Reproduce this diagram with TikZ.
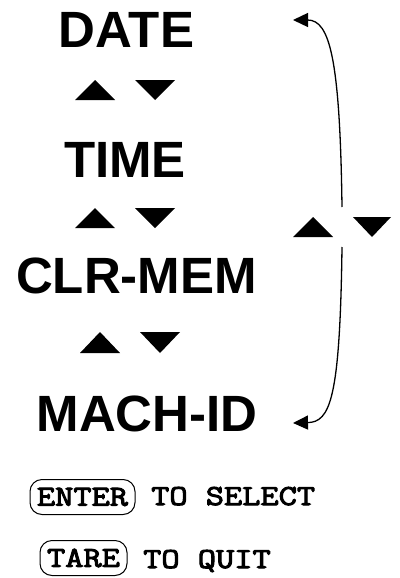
\documentclass[tikz,border=0pt]{standalone}
\usepackage{fontspec}
\setmainfont{Liberation Sans}
\newfontfamily\keyfont{Latin Modern Mono}[FakeBold=3.5,FakeStretch=1.22]
\usetikzlibrary{arrows.meta}
\newcommand\keyface{\fontsize{29}{29}\keyfont}
\begin{document}
\begin{tikzpicture}[x=1pt,y=-1pt,
  menuitem/.style={anchor=base,inner sep=0pt,font=\fontsize{51}{51}\selectfont\bfseries},
  keybox/.style={draw,line width=1pt,rounded corners=12pt,inner sep=0pt,font=\keyface},
  keytext/.style={anchor=base west,inner sep=0pt,font=\keyface},
  tri/.style={fill=black},
  loop/.style={line width=1.3pt,-{Triangle[length=15pt,width=14pt]}}]
\useasboundingbox[fill=white] (0,0) rectangle (399,578);

% menu entries
\node[menuitem] (date) at (126.5,48) {DATE};
\node[menuitem] (time) at (125,177) {TIME};
\node[menuitem] (clr)  at (136.5,293) {CLR-MEM};
\node[menuitem] (mach) at (147,431) {MACH-ID};

% up/down keys between the entries
\fill[tri] (75,100) -- (115,100) -- (95,80) -- cycle;
\fill[tri] (135,80) -- (175,80) -- (155,100) -- cycle;
\fill[tri] (75,228) -- (115,228) -- (95,208) -- cycle;
\fill[tri] (135,208) -- (175,208) -- (155,228) -- cycle;
\fill[tri] (80,353) -- (120,353) -- (100,332) -- cycle;
\fill[tri] (140,332) -- (180,332) -- (160,353) -- cycle;

% wrap-around keys on the right
\fill[tri] (293,237) -- (333,237) -- (313,217) -- cycle;
\fill[tri] (353,217) -- (391,217) -- (372,237) -- cycle;

\coordinate (gapTop) at (342,207);
\coordinate (gapBot) at (342,247);
\coordinate (dateEnd) at (293,20);
\coordinate (machEnd) at (293,423);

\draw[loop] (gapTop) .. controls (340,60) and (330,20) .. (dateEnd);
\draw[loop] (gapBot) .. controls (340,400) and (330,422) .. (machEnd);

% key legend
\node[keybox,minimum width=105pt,minimum height=35pt] (enter) at (82.5,497) {ENTER};
\node[keytext] (select) at (151,505) {TO SELECT};
\node[keybox,minimum width=87pt,minimum height=35pt] (tare) at (83.5,558) {TARE};
\node[keytext] (quit) at (143,568) {TO QUIT};
\end{tikzpicture}
\end{document}
